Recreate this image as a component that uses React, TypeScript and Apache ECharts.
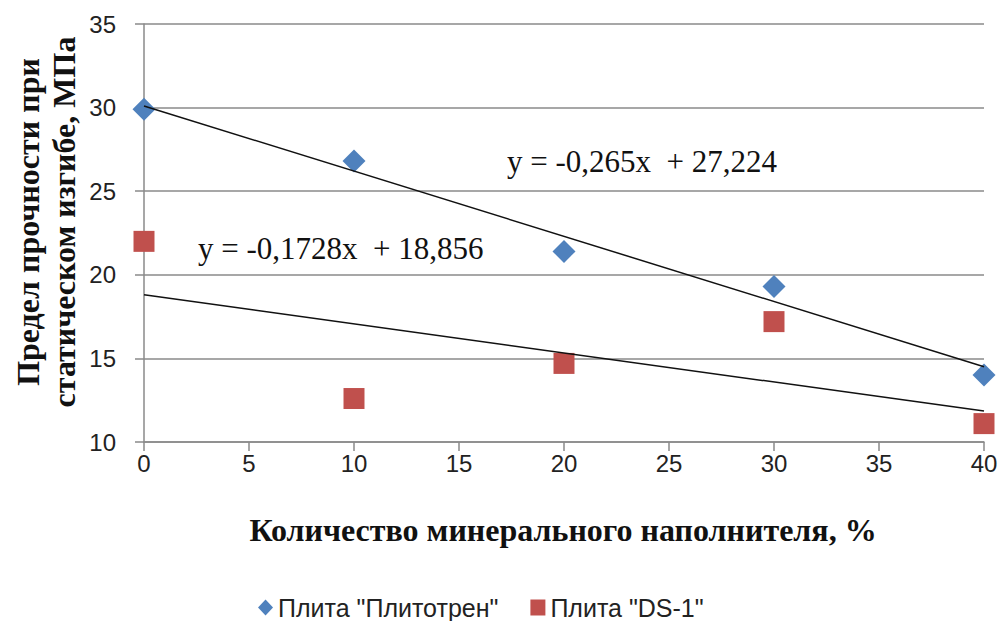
import React, { useEffect, useRef } from "react";
import * as echarts from "echarts";

// Filler content, %
const fillerPercent = [0, 10, 20, 30, 40];
// Bending strength, MPa
const plitotrenValues = [29.9, 26.8, 21.4, 19.3, 14.0];
const ds1Values = [22.0, 12.6, 14.7, 17.2, 11.1];

// Linear trend lines, endpoints at x = 0 and x = 40
const trendX = [0, 40];
const plitotrenTrend = [30.1, 14.5];
const ds1Trend = [18.8, 11.85];

const seriesNames = ['Плита "Плитотрен"', 'Плита "DS-1"'];
const plitotrenEquation = "y = -0,265x  + 27,224";
const ds1Equation = "y = -0,1728x  + 18,856";
const yAxisTitle = ["Предел прочности при", "статическом изгибе, МПа"];
const xAxisTitle = "Количество минерального наполнителя, %";

const SANS = "'Liberation Sans', Arial, sans-serif";
const SERIF = "'Liberation Serif', 'Times New Roman', serif";
const GRID_COLOR = "#8a8a8a";

export default function App() {
  const ref = useRef<HTMLDivElement>(null);

  useEffect(() => {
    if (!ref.current) return;
    const chart = echarts.init(ref.current, undefined, { renderer: "svg" });
    const pairs = (xs: number[], ys: number[]) => xs.map((x, i) => [x, ys[i]]);

    chart.setOption({
      animation: false,
      backgroundColor: "#ffffff",
      grid: { left: 144, right: 19, top: 24, bottom: 179, containLabel: false },
      xAxis: {
        type: "value",
        min: 0,
        max: 40,
        interval: 5,
        axisLine: { show: true, lineStyle: { color: GRID_COLOR, width: 1.5 } },
        axisTick: { show: true, length: 9, lineStyle: { color: GRID_COLOR, width: 1.5 } },
        splitLine: { show: false },
        axisLabel: { color: "#222", fontFamily: SANS, fontSize: 24, margin: 9 },
      },
      yAxis: {
        type: "value",
        min: 10,
        max: 35,
        interval: 5,
        axisLine: { show: true, lineStyle: { color: GRID_COLOR, width: 1.5 } },
        axisTick: { show: true, length: 9, lineStyle: { color: GRID_COLOR, width: 1.5 } },
        splitLine: { show: true, lineStyle: { color: GRID_COLOR, width: 1.5 } },
        axisLabel: { color: "#222", fontFamily: SANS, fontSize: 24, margin: 28 },
      },
      legend: {
        left: 253,
        top: 590,
        itemGap: 32,
        itemWidth: 15,
        itemHeight: 16,
        textStyle: { fontFamily: SANS, fontSize: 25, color: "#222" },
        data: [
          { name: seriesNames[0], icon: "diamond" },
          { name: seriesNames[1], icon: "rect" },
        ],
      },
      series: [
        {
          name: "trend-plitotren",
          type: "line",
          data: pairs(trendX, plitotrenTrend),
          symbol: "none",
          lineStyle: { color: "#111", width: 1.5 },
          z: 3,
          silent: true,
        },
        {
          name: "trend-ds1",
          type: "line",
          data: pairs(trendX, ds1Trend),
          symbol: "none",
          lineStyle: { color: "#111", width: 1.5 },
          z: 3,
          silent: true,
        },
        {
          name: seriesNames[0],
          type: "scatter",
          data: pairs(fillerPercent, plitotrenValues),
          symbol: "diamond",
          symbolSize: [23, 23],
          itemStyle: { color: "#4f81bd", opacity: 1 },
          z: 2,
        },
        {
          name: seriesNames[1],
          type: "scatter",
          data: pairs(fillerPercent, ds1Values),
          symbol: "rect",
          symbolSize: [21, 21],
          itemStyle: { color: "#c0504d", opacity: 1 },
          z: 2,
        },
      ],
      graphic: [
        {
          type: "text",
          x: 507,
          y: 161,
          style: {
            text: plitotrenEquation,
            font: `31px ${SERIF}`,
            fill: "#111",
            verticalAlign: "middle",
          },
        },
        {
          type: "text",
          x: 198,
          y: 248,
          style: {
            text: ds1Equation,
            font: `31px ${SERIF}`,
            fill: "#111",
            verticalAlign: "middle",
          },
        },
        {
          type: "text",
          x: 563,
          y: 530,
          style: {
            text: xAxisTitle,
            font: `bold 32px ${SERIF}`,
            fill: "#111",
            align: "center",
            verticalAlign: "middle",
          },
        },
        {
          type: "text",
          x: 46,
          y: 222,
          rotation: Math.PI / 2,
          style: {
            text: yAxisTitle.join("\n"),
            font: `bold 32px ${SERIF}`,
            lineHeight: 36,
            fill: "#111",
            align: "center",
            verticalAlign: "middle",
          },
        },
      ],
    });

    return () => chart.dispose();
  }, []);

  return (
    <div
      ref={ref}
      style={{ position: "fixed", left: 0, top: 0, width: 1003, height: 621, background: "#fff" }}
    />
  );
}
